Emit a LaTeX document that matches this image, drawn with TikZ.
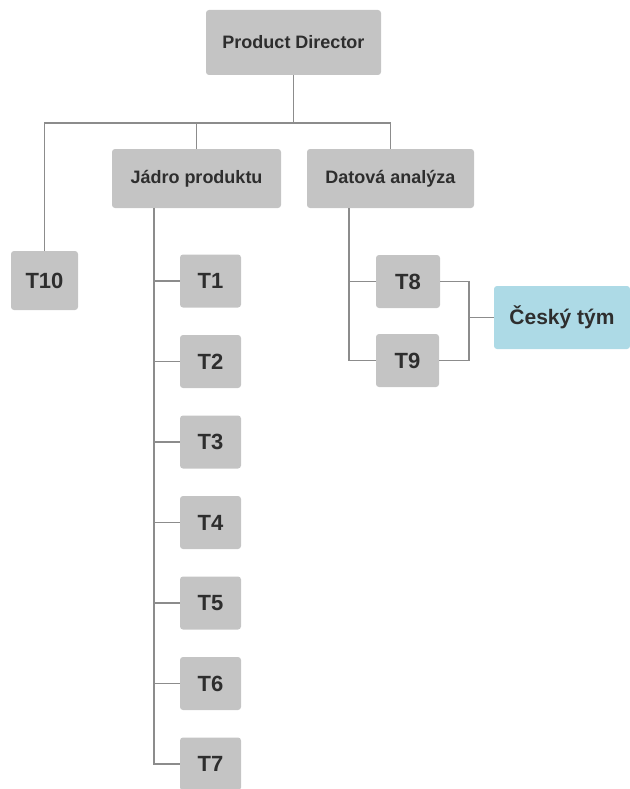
\documentclass[tikz,border=0pt]{standalone}
\usepackage{fontspec}
\setmainfont{Liberation Sans}
\definecolor{boxgray}{HTML}{C4C4C4}
\definecolor{linegray}{HTML}{8C8C8C}
\definecolor{czblue}{HTML}{ADDAE6}
\definecolor{txt}{HTML}{2E2E2E}

\begin{document}
\begin{tikzpicture}[x=1pt, y=-1pt,
  box/.style={fill=boxgray, rounded corners=3pt, inner sep=0pt, text=txt,
    font=\bfseries\fontsize{18}{21}\selectfont},
  tbox/.style={box, minimum width=61pt, minimum height=53pt,
    font=\bfseries\fontsize{22}{26}\selectfont},
  link/.style={draw=linegray, line width=1.6pt}]
  \useasboundingbox (0,0) rectangle (629,789);
  \node[box, minimum width=175pt, minimum height=65pt] (pd) at (293.5,42.5) {Product Director};
  \node[box, minimum width=169pt, minimum height=59pt] (jp) at (196.5,178.5) {Jádro produktu};
  \node[box, minimum width=167pt, minimum height=59pt] (da) at (390.5,178.5) {Datová analýza};
  \node[tbox, minimum width=67pt, minimum height=59pt] (t10) at (44.5,280.5) {T10};
  \foreach \i in {1,...,7} {
    \node[tbox] (t\i) at (210.5,{281+80.5*(\i-1)}) {T\i};
  }
  \node[tbox, minimum width=64pt] (t8) at (408,281.5) {T8};
  \node[tbox, minimum width=63pt] (t9) at (407.5,360.5) {T9};
  \node[box, fill=czblue, minimum width=136pt, minimum height=63pt,
    font=\bfseries\fontsize{21}{25}\selectfont] (cz) at (562,317.5) {Český tým};

  % top level
  \draw[link] (pd.south) -- ++(0,48) coordinate (bus);
  \draw[link] (t10.north) |- (bus) -| (da.north);
  \draw[link] (jp.north) -- (jp.north |- bus);
  % rails
  \coordinate (jpr) at (154,208);
  \coordinate (dar) at (349,208);
  \draw[link] (jpr) |- (t7.west);
  \foreach \i in {1,...,6}
    \draw[link] (t\i.west) -- (t\i.west -| jpr);
  \draw[link] (dar) |- (t9.west);
  \draw[link] (t8.west) -- (t8.west -| dar);
  \coordinate (brk) at (469,317.5);
  \draw[link] (t8.east) -| (brk) |- (t9.east);
  \draw[link] (brk) -- (cz.west);
\end{tikzpicture}
\end{document}
